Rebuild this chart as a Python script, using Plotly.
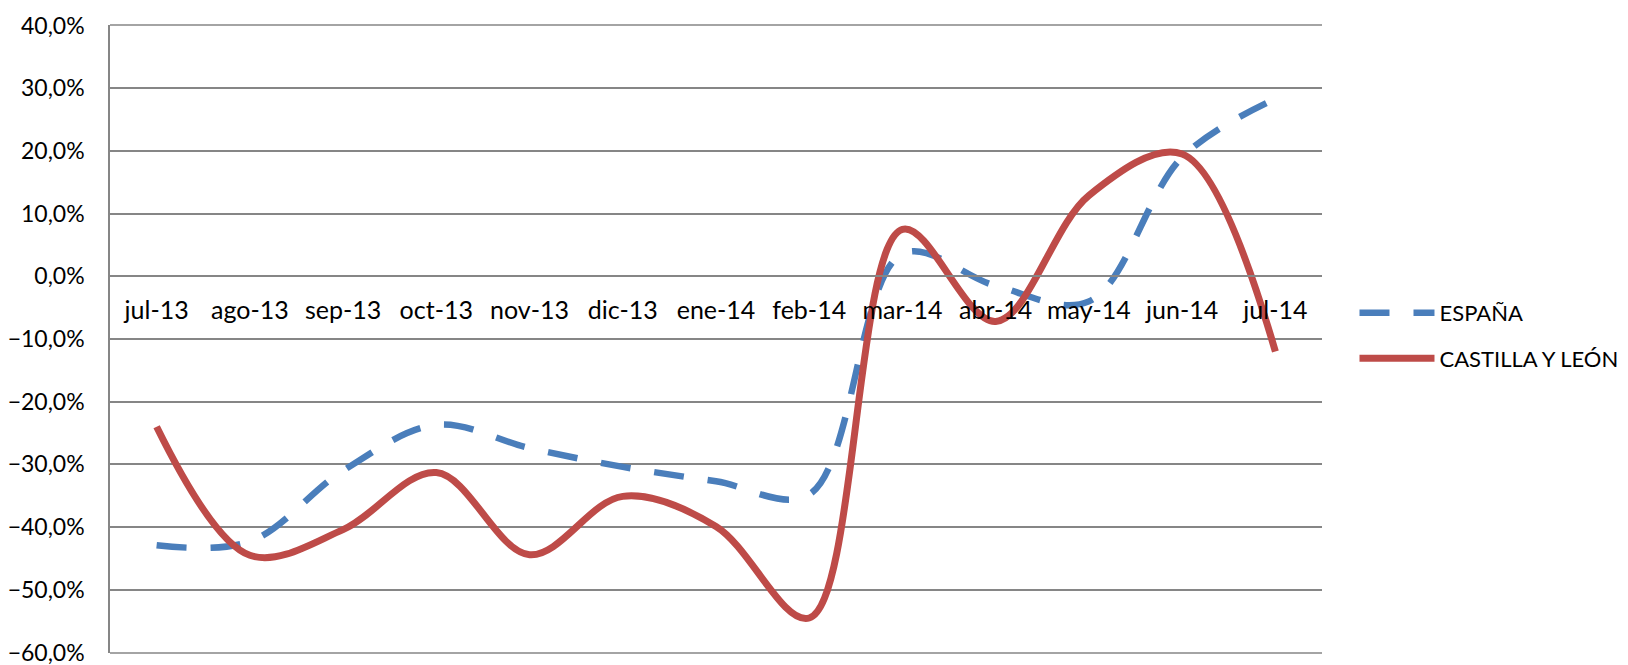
import plotly.graph_objects as go

meses = ["jul-13", "ago-13", "sep-13", "oct-13", "nov-13", "dic-13", "ene-14",
         "feb-14", "mar-14", "abr-14", "may-14", "jun-14", "jul-14"]
espana = [-0.429, -0.423, -0.310, -0.237, -0.274, -0.304, -0.327,
          -0.348, 0.036, -0.015, -0.040, 0.190, 0.283]
castilla = [-0.240, -0.445, -0.404, -0.313, -0.444, -0.351, -0.399,
            -0.545, 0.075, -0.072, 0.129, 0.195, -0.120]
y_ticks = [-0.6, -0.5, -0.4, -0.3, -0.2, -0.1, 0.0, 0.1, 0.2, 0.3, 0.4]

FONT = "Lato"
GRID = "#868686"

fig = go.Figure()
fig.add_trace(go.Scatter(
    x=meses, y=espana, name="ESPAÑA", mode="lines", legendgroup="a",
    line=dict(color="#4A7EBB", width=6.5, dash="30px,24px", shape="spline", smoothing=1.0),
))
fig.add_trace(go.Scatter(
    x=meses, y=castilla, name="CASTILLA Y LEÓN", mode="lines", legendgroup="b",
    line=dict(color="#BE4B48", width=7, shape="spline", smoothing=1.0),
))

# top and bottom border gridlines (40% and -60%)
for yp in (0, 1):
    fig.add_shape(type="line", xref="paper", yref="paper", x0=0, x1=1, y0=yp, y1=yp,
                  line=dict(color=GRID, width=1.5), layer="below")

fig.update_layout(
    width=1628, height=665,
    margin=dict(l=110, r=306, t=25, b=12),
    paper_bgcolor="white", plot_bgcolor="white",
    separators=",.",
    font=dict(family=FONT, size=24, color="black"),
    showlegend=True,
    legend=dict(xref="container", yref="container",
                x=0.832, xanchor="left", y=0.561, yanchor="top",
                traceorder="grouped", tracegroupgap=14,
                font=dict(family=FONT, size=22, color="black"),
                bgcolor="rgba(0,0,0,0)", itemwidth=75),
    xaxis=dict(
        type="category", range=[-0.5, 12.5],
        anchor="free", position=0.6, automargin=False,
        showgrid=False, showline=True, linecolor=GRID, linewidth=1.5,
        ticks="", ticklabelstandoff=12,
        tickfont=dict(family=FONT, size=25, color="black"),
    ),
    yaxis=dict(
        range=[-0.6008, 0.4008], tickvals=y_ticks, tickformat=".1%", automargin=False,
        showgrid=True, gridcolor=GRID, gridwidth=1.5,
        showline=True, linecolor=GRID, linewidth=1.5,
        zeroline=False, ticks="", ticklabelstandoff=19, ticklabeloverflow="allow",
        tickfont=dict(family=FONT, size=23, color="black"),
    ),
)

fig.write_html("out.html", config={"displayModeBar": False},
               post_script="document.body.style.margin='0px';document.body.style.overflow='hidden';")
